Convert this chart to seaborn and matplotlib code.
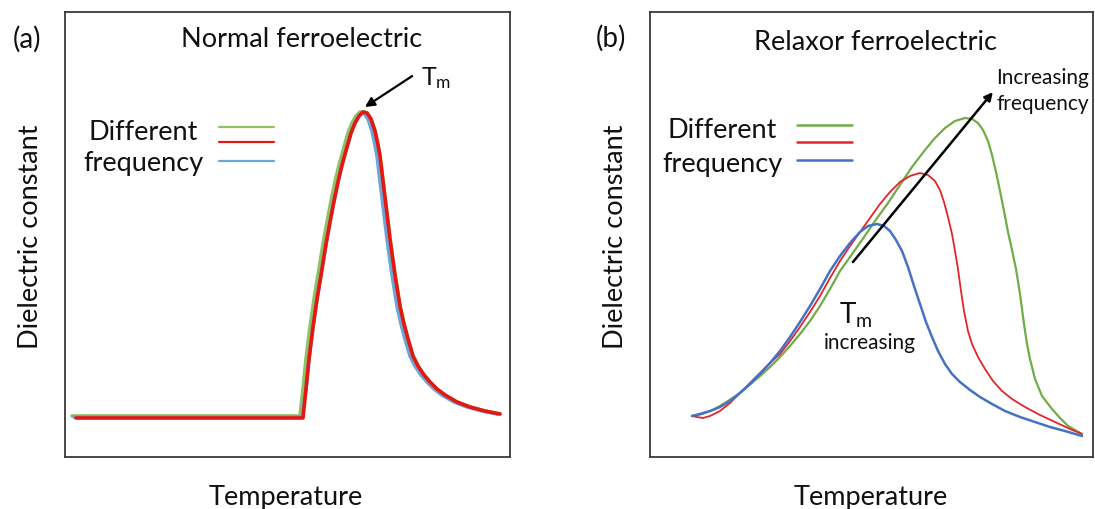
import numpy as np
import pandas as pd
import matplotlib
matplotlib.use("Agg")
import matplotlib.pyplot as plt
import seaborn as sns

# ---- (a) normal ferroelectric: dielectric constant vs temperature (arb. units)
normal_red_t = [11, 238, 241, 244, 248, 252, 257, 261, 265, 269, 273, 277, 282, 286, 290, 294, 298,
                302, 306, 310, 313, 315, 318, 322, 325, 330, 335, 339, 343, 348, 353, 359, 365, 372,
                380, 392, 405, 420, 435]
normal_red_e = [39, 39, 68, 98, 130, 158, 188, 213, 235, 256, 275, 292, 310, 324, 334, 341, 345,
                344, 338, 326, 312, 301, 276, 243, 218, 182, 151, 133, 118, 101, 91, 82, 75, 68,
                62, 55, 50, 46, 43]

normal_green_t = [7, 235, 238, 241, 245, 249, 254, 258, 262, 266, 270, 274, 279, 283, 287, 291, 295,
                  299, 302, 306, 310, 313, 315, 318, 322, 325, 330, 335, 339, 343, 348, 353, 359, 365,
                  372, 380, 392, 405, 420, 435]
normal_green_e = [41, 41, 68, 98, 130, 158, 188, 213, 235, 256, 275, 292, 310, 324, 334, 341, 345,
                  345, 344, 338, 326, 312, 301, 276, 243, 218, 182, 151, 133, 118, 101, 91, 82, 75,
                  68, 62, 55, 50, 46, 43]

normal_blue_t = [9, 237, 241, 244, 248, 252, 257, 261, 265, 269, 273, 277, 282, 286, 290, 294, 298,
                 303, 307, 310, 312, 315, 319, 322, 327, 332, 336, 340, 345, 350, 356, 362, 369, 377,
                 389, 402, 417, 432]
normal_blue_e = [40, 40, 68, 98, 130, 158, 188, 213, 235, 256, 275, 292, 310, 324, 334, 341, 345,
                 338, 326, 312, 301, 276, 243, 218, 182, 151, 133, 118, 101, 91, 82, 75, 68, 62,
                 55, 50, 46, 43]

# ---- (b) relaxor ferroelectric
relax_green_t = [42, 52, 63, 75, 87, 97, 110, 120, 130, 140, 150, 160, 170, 180, 190, 200, 212, 225,
                 238, 250, 262, 275, 285, 295, 305, 315, 322, 328, 333, 338, 342, 346, 350, 354, 358,
                 362, 366, 370, 374, 377, 380, 385, 392, 402, 410, 418, 425, 432]
relax_green_e = [41, 43, 47, 54, 62, 70, 81, 90, 100, 111, 123, 136, 151, 168, 186, 200, 217, 236,
                 254, 272, 290, 307, 319, 329, 336, 339, 338, 334, 327, 316, 302, 285, 266, 246, 225,
                 207, 188, 163, 133, 113, 98, 78, 61, 48, 39, 31, 27, 23]

relax_red_t = [42, 47, 53, 60, 70, 80, 90, 100, 110, 120, 130, 140, 150, 160, 170, 180, 190, 200,
               210, 220, 230, 240, 250, 260, 270, 278, 285, 290, 294, 298, 302, 305, 308, 311, 314,
               318, 322, 328, 335, 343, 352, 362, 375, 390, 405, 420, 432]
relax_red_e = [41, 40, 39, 41, 46, 54, 64, 74, 84, 94, 103, 116, 130, 145, 161, 179, 196, 211,
               225, 239, 253, 265, 275, 281, 284, 282, 276, 267, 255, 240, 223, 206, 188, 166, 146,
               126, 113, 100, 88, 76, 66, 58, 50, 42, 35, 28, 23]

relax_blue_t = [42, 50, 60, 70, 80, 90, 100, 110, 120, 130, 140, 150, 160, 170, 180, 190, 200, 210,
                218, 227, 234, 240, 246, 252, 258, 264, 270, 276, 282, 288, 295, 302, 310, 320, 330,
                342, 355, 370, 385, 400, 415, 432]
relax_blue_e = [41, 43, 46, 50, 56, 64, 73, 83, 94, 106, 120, 135, 151, 168, 186, 201, 214, 225,
                231, 233, 231, 226, 217, 206, 190, 171, 153, 135, 120, 106, 93, 83, 75, 67, 60,
                53, 46, 40, 35, 30, 26, 21]

sns.set_theme(style="white")
plt.rcParams["font.family"] = ["Lato", "DejaVu Sans"]
plt.rcParams["mathtext.fontset"] = "custom"
plt.rcParams["mathtext.rm"] = "Lato"
plt.rcParams["mathtext.it"] = "Lato:italic"

W, H = 1095, 510
fig = plt.figure(figsize=(W / 100, H / 100), dpi=100)
ax_a = fig.add_axes([65 / W, 52 / H, 445 / W, 445 / H])
ax_b = fig.add_axes([650 / W, 52 / H, 443 / W, 445 / H])

TXT = "#111111"
FS = 19.5

GREEN_A, RED_A, BLUE_A = "#8fc167", "#e5170f", "#6aa6d6"
GREEN_B, RED_B, BLUE_B = "#70ad47", "#e3242b", "#4472c4"


def draw(ax, t, e, color, lw):
    sns.lineplot(x=t, y=e, ax=ax, color=color, linewidth=lw, sort=False,
                 estimator=None, solid_joinstyle="round", solid_capstyle="round")


# panel (a) curves
draw(ax_a, normal_green_t, normal_green_e, GREEN_A, 2.6)
draw(ax_a, normal_blue_t, normal_blue_e, BLUE_A, 2.6)
draw(ax_a, normal_red_t, normal_red_e, RED_A, 2.6)

# panel (b) curves
draw(ax_b, relax_green_t, relax_green_e, GREEN_B, 1.6)
draw(ax_b, relax_red_t, relax_red_e, RED_B, 1.3)
draw(ax_b, relax_blue_t, relax_blue_e, BLUE_B, 1.8)

ax_a.set_xlim(0, 445)
ax_a.set_ylim(0, 445)
ax_b.set_xlim(0, 443)
ax_b.set_ylim(0, 445)

for ax in (ax_a, ax_b):
    ax.set_xticks([])
    ax.set_yticks([])
    for s in ax.spines.values():
        s.set_visible(True)
        s.set_color("#3a3a3a")
        s.set_linewidth(1.3)
    ax.set_xlabel("Temperature", fontsize=FS, color=TXT)
    ax.set_ylabel("Dielectric constant", fontsize=FS, color=TXT)
    ax.xaxis.label.set_va("baseline")
    ax.yaxis.label.set_va("baseline")

ax_a.xaxis.set_label_coords(0.497, -0.106)
ax_b.xaxis.set_label_coords(0.499, -0.106)
ax_a.yaxis.set_label_coords(-0.061, 0.497)
ax_b.yaxis.set_label_coords(-0.061, 0.497)

# panel letters
fig.text(27.5 / W, 1 - 39.5 / H, "(a)", fontsize=20, color=TXT, ha="center", va="center")
fig.text(611 / W, 1 - 38.5 / H, "(b)", fontsize=20, color=TXT, ha="center", va="center")

# titles
ax_a.text(0.532, 0.924, "Normal ferroelectric", transform=ax_a.transAxes,
          fontsize=FS, color=TXT, ha="center", va="baseline")
ax_b.text(0.510, 0.917, "Relaxor ferroelectric", transform=ax_b.transAxes,
          fontsize=FS, color=TXT, ha="center", va="baseline")

# frequency key
for c, y in zip([GREEN_A, RED_A, BLUE_A], [0.7416, 0.7079, 0.6652]):
    ax_a.plot([0.3461, 0.4697], [y, y], transform=ax_a.transAxes, color=c, lw=1.6)
ax_a.text(0.175, 0.7146, "Different", transform=ax_a.transAxes, fontsize=FS,
          color=TXT, ha="center", va="baseline")
ax_a.text(0.177, 0.645, "frequency", transform=ax_a.transAxes, fontsize=FS,
          color=TXT, ha="center", va="baseline")

for c, y in zip([GREEN_B, RED_B, BLUE_B], [0.7461, 0.7079, 0.6674]):
    ax_b.plot([0.3318, 0.456], [y, y], transform=ax_b.transAxes, color=c, lw=1.8)
ax_b.text(0.163, 0.719, "Different", transform=ax_b.transAxes, fontsize=FS,
          color=TXT, ha="center", va="baseline")
ax_b.text(0.164, 0.643, "frequency", transform=ax_b.transAxes, fontsize=FS,
          color=TXT, ha="center", va="baseline")

TM = r"$\mathrm{T_m}$"

# T_m annotations, panel (a)
ax_a.annotate("", xy=(0.674, 0.7865), xytext=(0.780, 0.856), xycoords="axes fraction",
              textcoords="axes fraction",
              arrowprops=dict(arrowstyle="-|>", color="black", lw=1.6, mutation_scale=14,
                              shrinkA=0, shrinkB=0))
ax_a.text((421 - 65) / 445, (458 - 85) / 445, TM, transform=ax_a.transAxes,
          fontsize=18, color=TXT, ha="left", va="baseline")

# panel (b)
ax_b.annotate("", xy=(0.774, 0.820), xytext=(0.458, 0.438), xycoords="axes fraction",
              textcoords="axes fraction",
              arrowprops=dict(arrowstyle="-|>", color="black", lw=1.8, mutation_scale=12,
                              shrinkA=0, shrinkB=0))
ax_b.text((1043 - 650) / 443, (458 - 84) / 445, "Increasing", transform=ax_b.transAxes,
          fontsize=15, color=TXT, ha="center", va="baseline")
ax_b.text((1043 - 650) / 443, (458 - 110) / 445, "frequency", transform=ax_b.transAxes,
          fontsize=15, color=TXT, ha="center", va="baseline")
ax_b.text((839 - 650) / 443, (458 - 324) / 445, TM, transform=ax_b.transAxes,
          fontsize=20, color=TXT, ha="left", va="baseline")
ax_b.text((870 - 650) / 443, (458 - 349) / 445, "increasing", transform=ax_b.transAxes,
          fontsize=15, color=TXT, ha="center", va="baseline")

fig.savefig("out.png", dpi=100, facecolor="white")
